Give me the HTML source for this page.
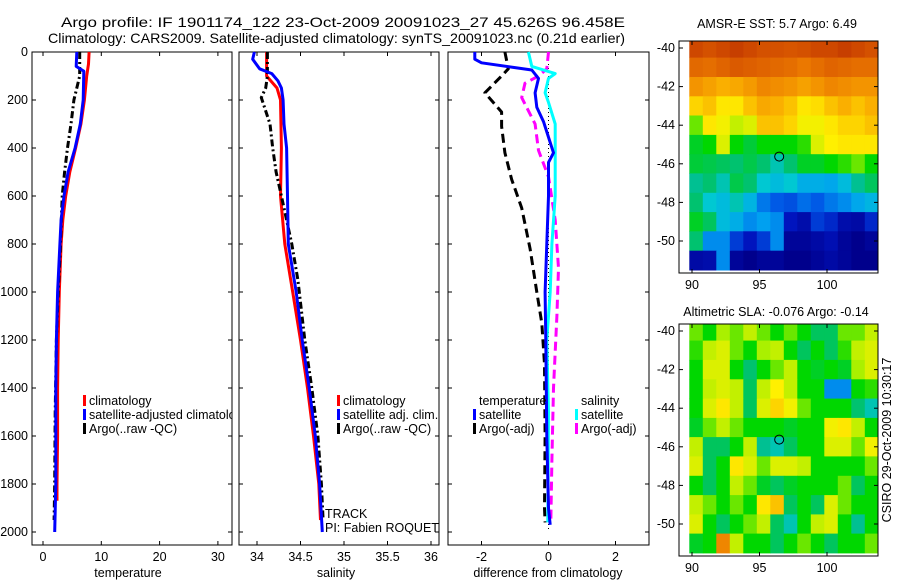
<!DOCTYPE html>
<html><head><meta charset="utf-8"><style>
html,body{margin:0;padding:0;background:#fff;}
svg{display:block;font-family:"Liberation Sans",sans-serif;}
text{font-size:12.5px;fill:#000;}
</style></head><body>
<svg id="s" width="900" height="580" xmlns="http://www.w3.org/2000/svg">
<defs><clipPath id="c1"><rect x="32" y="52" width="200" height="493"/></clipPath><clipPath id="c2"><rect x="239" y="52" width="200" height="493"/></clipPath></defs>
<text x="61" y="27" textLength="564" lengthAdjust="spacingAndGlyphs" style="font-size:14px">Argo profile: IF 1901174_122 23-Oct-2009 20091023_27 45.626S 96.458E</text>
<text x="48" y="43" textLength="577" lengthAdjust="spacingAndGlyphs" style="font-size:14px">Climatology: CARS2009. Satellite-adjusted climatology: synTS_20091023.nc (0.21d earlier)</text>
<text x="777" y="28" text-anchor="middle">AMSR-E SST: 5.7 Argo: 6.49</text>
<text x="776" y="316" text-anchor="middle">Altimetric SLA: -0.076 Argo: -0.14</text>
<text transform="translate(891,440) rotate(-90)" text-anchor="middle">CSIRO 29-Oct-2009 10:30:17</text>
</svg>
<script>
// ---- data ----
const depthTicks=[0,200,400,600,800,1000,1200,1400,1600,1800,2000];
const tempTicks=[0,10,20,30];
const salTicks=[34,34.5,35,35.5,36];
const salTickLabels=["34","34.5","35","35.5","36"];
const diffTicks=[-2,0,2];
const lonTicks=[90,95,100];
const latTicks=[-40,-42,-44,-46,-48,-50];

const tClimD=[0,50,100,200,300,400,500,600,700,800,1000,1200,1400,1600,1800,1870];
const tClimV=[7.9,7.8,7.5,7.1,6.5,5.6,4.6,3.9,3.4,3.1,2.8,2.6,2.5,2.5,2.4,2.4];
const tSatD=[0,60,80,200,300,400,500,600,700,800,1000,1200,1400,1600,1800,2000];
const tSatV=[5.8,5.7,7.0,6.9,6.4,5.5,4.3,3.6,3.1,2.9,2.5,2.3,2.2,2.2,2.2,2.0];
const tArgoD=[0,100,200,300,400,500,600,800,1000,1200,1500,1800,1950];
const tArgoV=[6.3,6.3,5.3,4.8,4.2,3.7,3.3,3.0,2.6,2.3,2.1,2.0,1.9];

const sClimD=[0,100,150,200,400,600,800,1000,1200,1400,1600,1800,1950];
const sClimV=[34.11,34.11,34.23,34.27,34.28,34.27,34.32,34.41,34.5,34.58,34.65,34.71,34.73];
const sSatD=[0,30,70,90,120,150,200,300,400,600,800,1000,1200,1400,1600,1800,2000];
const sSatV=[33.97,33.95,34.03,34.17,34.24,34.28,34.3,34.31,34.34,34.35,34.36,34.45,34.52,34.6,34.67,34.72,34.75];
const sArgoD=[0,100,150,190,300,400,500,600,700,800,950,1200,1400,1600,1800,1950];
const sArgoV=[34.12,34.12,34.1,34.05,34.15,34.18,34.22,34.28,34.34,34.4,34.47,34.55,34.63,34.7,34.74,34.76];

const dTSatD=[0,30,45,65,75,110,170,230,290,420,460,600,800,1000,1200,1600,1900,1970];
const dTSatV=[-2.2,-2.2,-2.0,-1.0,-0.5,-0.3,-0.4,-0.35,-0.15,0.15,0.0,0.0,-0.05,-0.1,-0.08,-0.05,0.0,0.05];
const dTArgoD=[0,70,100,170,250,310,420,530,650,820,1000,1130,1300,1600,1900,1960];
const dTArgoV=[-1.3,-1.2,-1.4,-1.9,-1.4,-1.4,-1.3,-1.1,-0.8,-0.55,-0.35,-0.2,-0.12,-0.1,-0.12,-0.1];
const dSSatD=[0,60,90,110,170,210,300,600,800,1000,1200,1500,1960];
const dSSatV=[-0.6,-0.5,0.2,0.0,-0.1,0.0,0.2,0.2,0.1,0.05,-0.05,0.0,-0.02];
const dSArgoD=[0,70,100,130,190,300,410,520,700,900,1100,1400,1700,1960];
const dSArgoV=[0.0,-0.05,-0.3,-0.7,-0.8,-0.4,-0.3,0.0,0.2,0.3,0.25,0.15,0.1,0.07];

const sstGrid=[
[.9,.88,.9,.92,.9,.88,.88,.87,.88,.9,.9,.92,.9,.88],
[.83,.82,.84,.86,.85,.84,.83,.82,.8,.82,.84,.83,.82,.82],
[.76,.74,.72,.73,.75,.78,.77,.76,.74,.76,.78,.77,.76,.76],
[.68,.7,.66,.66,.7,.73,.72,.7,.66,.67,.70,.72,.70,.72],
[.55,.66,.64,.6,.62,.70,.70,.68,.64,.64,.66,.68,.68,.70],
[.48,.5,.62,.5,.47,.5,.5,.5,.52,.62,.65,.66,.66,.66],
[.47,.46,.45,.44,.46,.44,.4,.44,.48,.48,.5,.52,.55,.5],
[.42,.44,.4,.46,.44,.38,.36,.38,.34,.34,.33,.36,.42,.45],
[.44,.38,.36,.4,.35,.28,.25,.24,.27,.25,.28,.3,.33,.35],
[.48,.45,.36,.34,.3,.32,.3,.18,.15,.22,.2,.15,.14,.2],
[.44,.3,.3,.22,.18,.22,.3,.12,.12,.14,.16,.12,.1,.12],
[.14,.15,.3,.12,.1,.12,.12,.1,.1,.12,.14,.12,.1,.1]];
const slaGrid=[
[.55,.5,.58,.55,.6,.55,.5,.55,.5,.45,.45,.55,.55,.6],
[.52,.6,.62,.55,.5,.58,.6,.5,.45,.5,.45,.52,.6,.62],
[.5,.62,.62,.5,.44,.5,.55,.6,.5,.48,.5,.48,.58,.62],
[.5,.6,.62,.6,.45,.6,.65,.6,.5,.5,.3,.3,.5,.52],
[.5,.62,.66,.6,.45,.62,.68,.64,.55,.5,.5,.5,.44,.4],
[.48,.55,.6,.55,.5,.5,.5,.48,.5,.5,.64,.66,.6,.5],
[.6,.45,.45,.5,.6,.42,.4,.45,.5,.5,.62,.62,.55,.64],
[.62,.45,.5,.66,.62,.55,.62,.62,.6,.5,.5,.5,.5,.55],
[.5,.45,.5,.6,.55,.48,.45,.48,.5,.5,.5,.55,.45,.5],
[.6,.55,.5,.55,.5,.66,.7,.45,.5,.45,.62,.55,.5,.5],
[.62,.5,.45,.5,.55,.6,.45,.4,.5,.6,.62,.5,.42,.5],
[.48,.5,.78,.6,.5,.5,.45,.5,.55,.5,.45,.5,.5,.55]];
const floatLon=96.458, floatLat=-45.626;

// ---- drawing ----
const S=document.getElementById('s');
const NS='http://www.w3.org/2000/svg';
function mk(tag,attrs,parent){const e=document.createElementNS(NS,tag);for(const k in attrs)e.setAttribute(k,attrs[k]);(parent||S).appendChild(e);return e;}
const yD=d=>52+d*0.24;
const Y0=52,Y1=545;
const panels=[
 {x0:32,x1:232,f:v=>43+v*5.83,name:'temperature-panel'},
 {x0:239,x1:439,f:v=>257+(v-34)*87,name:'salinity-panel'},
 {x0:448,x1:649,f:v=>548.5+v*33.5,name:'difference-panel'}];

function axesBox(p){
  const g=mk('g',{});
  
  
  const r=mk('rect',{x:p.x0,y:Y0,width:p.x1-p.x0,height:Y1-Y0,fill:'none',stroke:'#000','stroke-width':1},g);
  
  
  depthTicks.forEach(d=>{mk('line',{x1:p.x0,x2:p.x0+4,y1:yD(d),y2:yD(d),stroke:'#000'},g);mk('line',{x1:p.x1,x2:p.x1-4,y1:yD(d),y2:yD(d),stroke:'#000'},g);});
  return g;
}
function line(g,f,D,V,color,w,dash,name){
  const pts=D.map((d,i)=>f(V[i]).toFixed(1)+','+yD(d).toFixed(1)).join(' ');
  const e=mk('polyline',{points:pts,fill:'none',stroke:color,'stroke-width':w,'stroke-dasharray':dash||'none','stroke-linejoin':'round'},g);
  
  
}
function xticks(g,p,ticks,labels){
  ticks.forEach((t,i)=>{const x=p.f(t);
    mk('line',{x1:x,x2:x,y1:Y1,y2:Y1-4,stroke:'#000'},g);mk('line',{x1:x,x2:x,y1:Y0,y2:Y0+4,stroke:'#000'},g);
    const tx=mk('text',{x:x,y:561,'text-anchor':'middle'},g);tx.textContent=labels?labels[i]:String(t);
    
    });
}
function legend(g,x,y,items,clip){
  const lg=mk('g',clip?{'clip-path':'url(#'+clip+')'}:{},g);
  
  
  items.forEach((it,i)=>{
    if(it.c) mk('rect',{x:x,y:y+i*14-10,width:3,height:11,fill:it.c},lg);
    const t=mk('text',{x:x+6,y:y+i*14},lg);t.textContent=it.t;
    
    
  });
}
depthTicks.forEach(d=>{const t=mk('text',{x:28,y:yD(d)+4,'text-anchor':'end'});t.textContent=String(d);
  
  });

// panel 1
let g=axesBox(panels[0]);
xticks(g,panels[0],tempTicks);
line(g,panels[0].f,tClimD,tClimV,'#f00',3,null,'temp-climatology-line');
line(g,panels[0].f,tArgoD,tArgoV,'#000',3,'7,3,2,3','temp-argo-line');
line(g,panels[0].f,tSatD,tSatV,'#00f',3,null,'temp-satellite-line');
legend(g,83,405,[{c:'#f00',t:'climatology'},{c:'#00f',t:'satellite-adjusted climatology'},{c:'#000',t:'Argo(..raw -QC)'}],'c1');
let tl=mk('text',{x:128,y:577,'text-anchor':'middle'},g);tl.textContent='temperature';



// panel 2
g=axesBox(panels[1]);
xticks(g,panels[1],salTicks,salTickLabels);
line(g,panels[1].f,sClimD,sClimV,'#f00',3,null,'sal-climatology-line');
line(g,panels[1].f,sArgoD,sArgoV,'#000',3,'7,3,2,3','sal-argo-line');
line(g,panels[1].f,sSatD,sSatV,'#00f',3,null,'sal-satellite-line');
legend(g,337,405,[{c:'#f00',t:'climatology'},{c:'#00f',t:'satellite adj. clim.'},{c:'#000',t:'Argo(..raw -QC)'}],'c2');
let t2=mk('text',{x:325,y:518},g);t2.textContent='TRACK';


t2=mk('text',{x:325,y:532},g);t2.textContent='PI: Fabien ROQUET';


tl=mk('text',{x:336,y:577,'text-anchor':'middle'},g);tl.textContent='salinity';



// panel 3
g=axesBox(panels[2]);
xticks(g,panels[2],diffTicks);
const zl=mk('line',{x1:548.5,x2:548.5,y1:Y0,y2:yD(2000),stroke:'#000','stroke-dasharray':'1,3'},g);


line(g,panels[2].f,dTArgoD,dTArgoV,'#000',3,'9,5','diff-temp-argo-line');
line(g,panels[2].f,dSArgoD,dSArgoV,'#f0f',3,'9,5','diff-sal-argo-line');
line(g,panels[2].f,dSSatD,dSSatV,'#0ff',3,null,'diff-sal-satellite-line');
line(g,panels[2].f,dTSatD,dTSatV,'#00f',3,null,'diff-temp-satellite-line');
legend(g,473,405,[{t:'temperature'},{c:'#00f',t:'satellite'},{c:'#000',t:'Argo(-adj)'}]);
legend(g,575,405,[{t:'salinity'},{c:'#0ff',t:'satellite'},{c:'#f0f',t:'Argo(-adj)'}]);
tl=mk('text',{x:548,y:577,'text-anchor':'middle'},g);tl.textContent='difference from climatology';



// maps
const cstops=[[0.0,[0,0,120]],[0.1,[0,0,140]],[0.18,[0,20,190]],[0.25,[0,90,230]],[0.32,[0,160,240]],[0.38,[0,200,210]],[0.43,[0,190,130]],[0.5,[0,215,0]],[0.58,[170,240,0]],[0.65,[255,240,0]],[0.72,[250,175,0]],[0.8,[235,120,0]],[0.87,[215,85,0]],[0.95,[190,50,0]],[1.0,[170,30,0]]];
function cmap(v){
  for(let i=1;i<cstops.length;i++){if(v<=cstops[i][0]){const a=cstops[i-1],b=cstops[i],t=(v-a[0])/(b[0]-a[0]);
    return 'rgb('+a[1].map((c,k)=>Math.round(c+(b[1][k]-c)*t)).join(',')+')';}}
  return 'rgb(170,30,0)';
}
function drawMap(top,grid,name){
  const L=679,R=878,T=top,B=top+232;
  const xl=lon=>692+(lon-90)*13.5;
  const yl=lat=>T+7+(-40-lat)*19.3;
  const mg=mk('g',{});
  
  
  const lon0=89.8,lat0=-39.5;
  grid.forEach((row,i)=>row.forEach((v,j)=>{
    const x=xl(lon0+j), y=Math.max(T,yl(lat0-i)), x2=Math.min(R,xl(lon0+j+1)), y2=Math.min(B,yl(lat0-i-1));
    const c=mk('rect',{x:x.toFixed(1),y:y.toFixed(1),width:(x2-x+0.5).toFixed(1),height:(y2-y+0.5).toFixed(1),fill:cmap(v)},mg);
    
    
  }));
  mk('rect',{x:L,y:T,width:R-L,height:B-T,fill:'none',stroke:'#000'},mg);
  latTicks.forEach(la=>{const y=yl(la);mk('line',{x1:L,x2:L+4,y1:y,y2:y,stroke:'#000'},mg);mk('line',{x1:R,x2:R-4,y1:y,y2:y,stroke:'#000'},mg);
    const t=mk('text',{x:675,y:y+4,'text-anchor':'end'},mg);t.textContent=String(la);
    
    });
  lonTicks.forEach(lo=>{const x=xl(lo);mk('line',{x1:x,x2:x,y1:B,y2:B-4,stroke:'#000'},mg);mk('line',{x1:x,x2:x,y1:T,y2:T+4,stroke:'#000'},mg);
    const t=mk('text',{x:x,y:B+16,'text-anchor':'middle'},mg);t.textContent=String(lo);
    
    });
  const c=mk('circle',{cx:xl(floatLon),cy:yl(floatLat),r:4.5,fill:'none',stroke:'#000'},mg);
  
  
}
drawMap(41,sstGrid,'sst-map');
drawMap(324,slaGrid,'sla-map');
</script>
</body></html>
